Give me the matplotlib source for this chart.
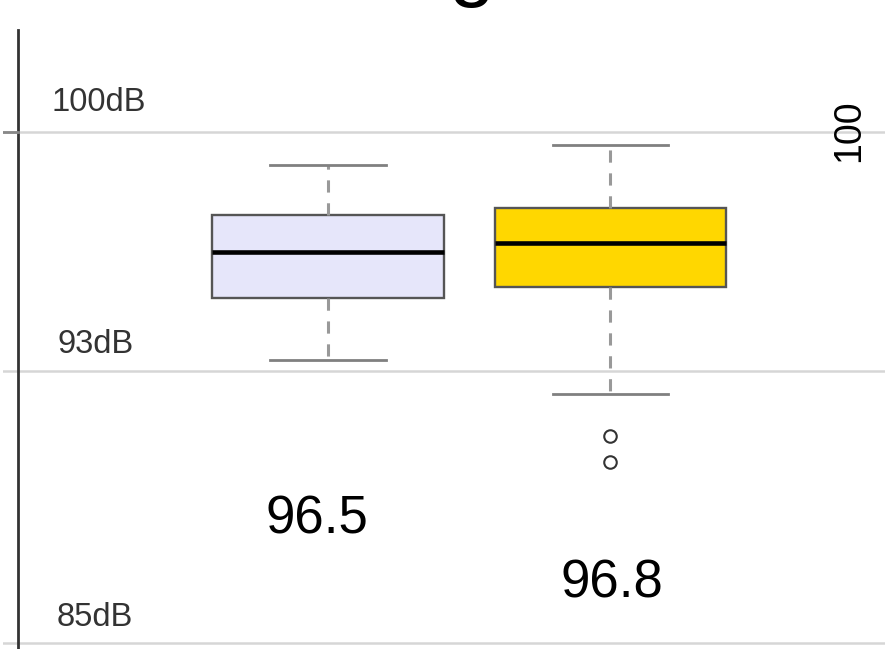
import matplotlib
matplotlib.use("Agg")
import matplotlib.pyplot as plt

# box statistics (dB)
groups = ["A", "B"]
medians = [96.48, 96.74]
q1 = [95.13, 95.45]
q3 = [97.56, 97.77]
whis_lo = [93.31, 92.31]
whis_hi = [99.03, 99.62]
outliers = [[], [91.08, 90.31]]
fills = ["#E6E6FA", "#FFD700"]
value_labels = ["96.5", "96.8"]
grid_levels = [100, 93, 85]
level_labels = ["100dB", "93dB", "85dB"]

plt.rcParams['font.family'] = ['Liberation Sans', 'DejaVu Sans']

fig = plt.figure(figsize=(8.85, 6.49), dpi=100)
ax = fig.add_axes([3 / 885, 0, 882 / 885, 1])
for s in ax.spines.values():
    s.set_visible(False)

# light horizontal grid
for lv in grid_levels:
    ax.axhline(lv, color="#d6d6d6", lw=1.8, zorder=0)

stats = []
for i in range(len(groups)):
    stats.append(dict(med=medians[i], q1=q1[i], q3=q3[i],
                      whislo=whis_lo[i], whishi=whis_hi[i], fliers=outliers[i]))

bp = ax.bxp(stats, positions=[1, 2], widths=0.818, patch_artist=True,
            boxprops=dict(edgecolor="#555555", linewidth=1.7),
            medianprops=dict(color="black", linewidth=3.3),
            whiskerprops=dict(color="#999999", linewidth=2.2, linestyle=(0, (4, 3.5))),
            capprops=dict(color="#808080", linewidth=2.0),
            capwidths=0.41,
            flierprops=dict(marker="o", markersize=9, markerfacecolor="none",
                            markeredgecolor="#333333", markeredgewidth=1.5))
for patch, c in zip(bp["boxes"], fills):
    patch.set_facecolor(c)
ax.set_xlim(-0.1504, 2.9717)
ax.set_ylim(84.83, 103.87)
ax.set_xticks([])
ax.set_yticks([])

# left axis line with one tick at 100
ax.plot([-0.0973, -0.0973], [84.83, 102.99], color="#333333", lw=2.0, clip_on=False)
ax.plot([-0.1504, -0.0973], [100, 100], color="#888888", lw=2)

label_x = [0.023, 0.041, 0.041]
label_y = [100.85, 93.75, 85.76]
for lab, xs, ys in zip(level_labels, label_x, label_y):
    ax.text(xs, ys, lab, fontsize=23.5, color="#333333", ha="left", va="center")

ax.text(0.961, 88.64, value_labels[0], fontsize=38, ha="center", va="center")
ax.text(2.005, 86.76, value_labels[1], fontsize=38, ha="center", va="center")
ax.text(2.844, 100.03, "100", fontsize=27, rotation=90, ha="center", va="center")

# title mostly cut off above the picture
fig.text(472 / 885, 1.0 + 9 / 649, "g", fontsize=60, ha="center", va="baseline")

fig.savefig("out.png", dpi=100)
